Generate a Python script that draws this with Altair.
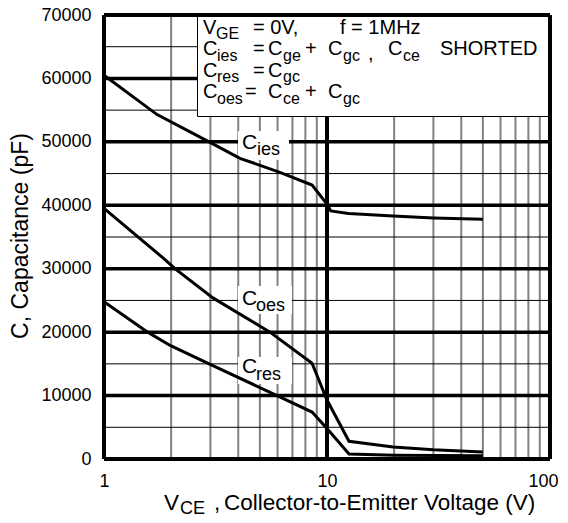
import altair as alt
import pandas as pd

# ---- data ----
cies_v = [1, 1.73, 2.96, 4.07, 6.15, 8.57, 10, 10.4, 12.5, 19.8, 30, 50]
cies_c = [60500, 54300, 50000, 47400, 45200, 43200, 40200, 39100, 38700, 38300, 38000, 37800]
coes_v = [1, 1.84, 2.08, 3.08, 5.55, 8.57, 10, 12.55, 19.8, 30, 50]
coes_c = [39500, 31700, 30000, 25400, 20000, 15100, 9300, 2800, 1900, 1450, 1100]
cres_v = [1, 1.57, 1.98, 2.96, 5.97, 8.57, 10, 12.55, 20, 50]
cres_c = [24800, 20000, 17900, 15000, 10000, 7400, 4800, 800, 600, 500]

y_ticks = [0, 10000, 20000, 30000, 40000, 50000, 60000, 70000]
x_ticks = [1, 10, 100]
h_major = [10000, 20000, 30000, 40000, 50000, 60000]
h_minor = [5000, 15000, 25000, 35000, 45000, 55000, 65000]
v_minor = [2, 3, 4, 5, 6, 7, 8, 9, 20, 30, 40, 50, 60, 70, 80, 90]
v_major = [10]

FONT = "Liberation Sans"
W, H = 446, 444
OX, OY = 104, 15  # page position of plot origin

xs = alt.Scale(type="log", domain=[1, 100])
ys = alt.Scale(domain=[0, 70000])

X_AXIS = alt.Axis(values=x_ticks, format="d", labelFont=FONT, labelFontSize=18,
                  labelColor="black", tickSize=0, domain=False, grid=False,
                  labelPadding=13, labelFlush=False, title=None,
                  labelAlign=alt.ExprRef(expr="datum.value >= 100 ? 'right' : 'center'"),
                  labelOffset=alt.ExprRef(expr="datum.value >= 100 ? 8 : 0"))
Y_AXIS = alt.Axis(values=y_ticks, format="d", labelFont=FONT, labelFontSize=18,
                  labelColor="black", tickSize=0, domain=False, grid=False,
                  labelPadding=13, title=None)

curves = pd.DataFrame(
    [{"v": v, "c": c, "s": "Cies"} for v, c in zip(cies_v, cies_c)]
    + [{"v": v, "c": c, "s": "Coes"} for v, c in zip(coes_v, coes_c)]
    + [{"v": v, "c": c, "s": "Cres"} for v, c in zip(cres_v, cres_c)]
)

def vrules(vals, color, width):
    return alt.Chart(pd.DataFrame({"v": vals})).mark_rule(color=color, strokeWidth=width).encode(
        x=alt.X("v:Q", scale=xs, axis=X_AXIS))

def hrules(vals, color, width):
    return alt.Chart(pd.DataFrame({"c": vals})).mark_rule(color=color, strokeWidth=width).encode(
        y=alt.Y("c:Q", scale=ys, axis=Y_AXIS))

grid = [
    vrules(v_minor, "#808080", 2),
    hrules(h_minor, "#000000", 1),
    hrules(h_major, "#000000", 3.5),
    vrules(v_major, "#000000", 4),
]

def box(x1, x2, y1, y2, stroke=None):
    kw = dict(fill="white")
    if stroke:
        kw.update(stroke=stroke, strokeWidth=1)
    return alt.Chart(pd.DataFrame({"a": [0]})).mark_rect(**kw).encode(
        x=alt.value(x1 - OX), x2=alt.value(x2 - OX),
        y=alt.value(y1 - OY), y2=alt.value(y2 - OY))

boxes = [
    box(197.5, OX + W, OY, 116.5, stroke="black"),
    box(238, 289, 131, 160),
    box(238, 292, 286, 314),
    box(238, 292, 357, 384),
]

lines = alt.Chart(curves).mark_line(color="black", strokeWidth=3, strokeJoin="miter").encode(
    x=alt.X("v:Q", scale=xs, axis=X_AXIS),
    y=alt.Y("c:Q", scale=ys, axis=Y_AXIS),
    detail="s:N",
)

M, S = 20, 16
pieces = [
    ("V", 203, 34, M), ("GE", 216, 39, S), ("= 0V,", 253, 34, M), ("f = 1MHz", 340, 34, M),
    ("C", 203, 55, M), ("ies", 217, 60.5, S), ("=", 253, 55, M), ("C", 268, 55, M), ("ge", 283, 60.5, S),
    ("+", 305, 55, M), ("C", 328, 55, M), ("gc", 343, 60.5, S), (",", 368, 59.5, M),
    ("C", 388, 55, M), ("ce", 403, 60.5, S), ("SHORTED", 440, 55, M),
    ("C", 203, 76.5, M), ("res", 217, 82, S), ("=", 253, 76.5, M), ("C", 268, 76.5, M), ("gc", 283, 82, S),
    ("C", 203, 98, M), ("oes", 217, 103.5, S), ("=", 245, 98, M), ("C", 268, 98, M), ("ce", 283, 103.5, S),
    ("+", 305, 98, M), ("C", 328, 98, M), ("gc", 343, 103.5, S),
    # curve labels
    ("C", 242, 149, 21), ("ies", 257, 155, 18),
    ("C", 242, 305, 21), ("oes", 256, 311, 18),
    ("C", 242, 373, 21), ("res", 256, 380, 18),
    # x title
    ("V", 164, 510, 22.5), ("CE", 180, 514, 18), (",", 214, 510, 22.5),
    ("Collector-to-Emitter Voltage (V)", 224, 510, 22.5),
]

texts = []
for t, px, py, sz in pieces:
    texts.append(
        alt.Chart(pd.DataFrame({"a": [0]})).mark_text(
            text=t, font=FONT, fontSize=sz, align="left", baseline="alphabetic", color="black"
        ).encode(x=alt.value(px - OX), y=alt.value(py - OY))
    )

ytitle = alt.Chart(pd.DataFrame({"a": [0]})).mark_text(
    text="C, Capacitance (pF)", font=FONT, fontSize=23, angle=270, align="center",
    baseline="alphabetic", color="black"
).encode(x=alt.value(28 - OX), y=alt.value(236 - OY))

border = [
    vrules([1, 100], "black", 4),
    hrules([0, 70000], "black", 4),
]

chart = alt.layer(*grid, *boxes, lines, *texts, ytitle, *border).properties(
    width=W, height=H,
    autosize=alt.AutoSizeParams(type="none"),
    padding={"left": 96, "top": 7, "right": 10, "bottom": 56},
).configure_view(stroke=None)

chart.save("out.html", embed_options={"renderer": "svg", "actions": False})
